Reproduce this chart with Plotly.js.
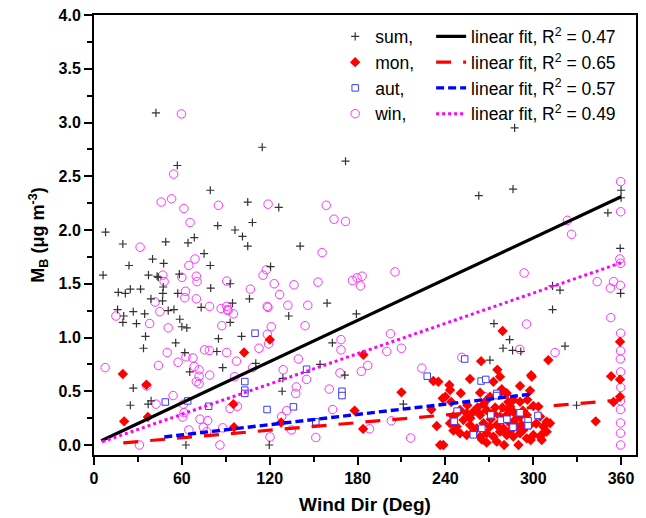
<!DOCTYPE html>
<html>
<head>
<meta charset="utf-8">
<script src="https://cdn.plot.ly/plotly-3.0.1.min.js"></script>
<style>html,body{margin:0;padding:0;background:#fff;}#chart{width:646px;height:518px;}</style>
</head>
<body>
<div id="chart"></div>
<script>
// ---- data (wind direction in degrees, M_B in µg m^-3) ----
var sumX = [6.2,7.9,19.7,16.1,20.3,19.7,21.4,23.9,24.8,31.8,26.8,29,34.6,35.2,33.8,26.8,24.8,37.2,40,38.9,42.3,43.1,47.6,49,47.3,47,46.8,50.7,54.6,55.8,56.9,58.3,57.2,58.6,63.4,64.2,68.5,65.4,62,62.8,75.2,79.4,79.4,79.7,73.2,84.5,85,83.9,87.9,93,94.6,93,96.3,101.4,105,108.2,105,106.2,100.8,114.9,120.6,126.2,119.7,129,128.5,133,140.8,154.4,159.2,162.8,171.8,171.3,179.2,211.3,262.8,270.4,273.2,279.4,283.9,285.9,286.2,287.3,291.5,313.2,313.2,318.3,321.7,329.6,351,360,360,359.4,359.7,37,39,110.5,60,16.6,43.9];
var sumY = [1.58,1.98,1.87,1.26,1.20,1.14,1.41,1.67,1.45,1.45,1.24,1.13,1.22,1.01,0.90,0.53,0.37,1.58,1.73,1.36,3.09,1.57,1.69,1.89,1.47,1.41,1.34,1.25,1.26,0.95,2.60,1.59,1.41,1.17,1.09,1.88,1.93,0.68,0.86,0.0,1.78,2.37,1.67,1.46,1.28,2.04,0.99,0.87,0.72,1.50,1.32,1.14,2.00,1.94,2.26,2.07,1.85,1.36,1.01,2.77,1.66,2.21,0.0,0.62,0.50,1.20,1.85,0.75,1.32,0.95,2.64,0.65,1.22,0.38,2.32,0.79,1.13,0.90,0.98,0.88,2.38,2.95,0.87,1.48,1.26,1.44,0.92,0.37,2.16,2.37,2.30,1.83,1.41,0.38,0.41,0.76,1.10,1.42,1.56];

var monX = [19.7,20.6,35.8,36.8,95.2,95.6,102.5,120.1,127.8,178,184,183.8,210,
  264.4,275.5,299,256.8,277.3,272.8,242.7,235.2,231.8,243.2,291,297.8,263.7,250.5,278.5,281.9,276.2,270.5,238.2,268.2,286.4,291,300.1,303.5,284.2,
  245.5,250,254.6,259.1,263.7,268.2,272.8,277.3,281.9,286.4,291,295.6,304.7,309.2,
  243.2,247.7,252.3,256.8,261.4,266,270.5,275.1,279.6,284.2,288.8,293.3,297.8,306.9,311.5,
  245.5,250,254.6,259.1,263.7,268.2,272.8,277.3,281.9,286.4,291,295.6,300.1,304.7,309.2,
  236.4,238.6,280.1,289.9,298.3,305.8,275.1,268.2,234.1,230.4,240,
  248,257,262,266,271,274,279,283,288,293,296,302,306,265,285,292,255,244,
  310.3,279.1,298.6,342.7,353.2,354.8,359.3,359.3,359.3];
var monY = [0.66,0.22,0.56,0.26,0.38,0.165,0.86,0.98,0.21,0.32,0.84,0.15,0.49,
  0.78,0.70,0.636,0.614,0.636,0.589,0.558,0.589,0.596,0.512,0.549,0.506,0.487,0.481,0.518,0.481,0.466,0.45,0.434,0.419,0.419,0.403,0.363,0.357,0.357,
  0.264,0.326,0.295,0.31,0.279,0.326,0.295,0.264,0.279,0.31,0.264,0.279,0.264,0.217,
  0.202,0.171,0.233,0.186,0.155,0.202,0.171,0.186,0.155,0.202,0.171,0.14,0.186,0.171,0.202,
  0.134,0.109,0.093,0.124,0.078,0.109,0.078,0.124,0.093,0.078,0.109,0.062,0.093,0.078,0.124,
  0.0,0.0,0.0,0.0,0.047,0.047,0.031,0.022,0.177,0.33,0.45,
  0.30,0.25,0.35,0.38,0.24,0.35,0.35,0.40,0.24,0.32,0.42,0.20,0.10,0.05,0.14,0.19,0.37,0.40,
  0.79,1.06,0.65,0.22,0.64,0.40,0.96,0.61,0.45];

var autX = [48.7,64,78.3,103,103,103,110,118.2,136.2,145.2,151.5,169.4,169.4,227.6,246,248,253.2,259.1,264.4,267.6,264.9,271,275,275,278,282,286.2,291,296.5,296.5,303.2];
var autY = [0.40,0.41,0.36,0.59,0.51,0.48,1.04,0.33,0.355,0.705,0.215,0.50,0.46,0.64,0.22,0.315,0.80,0.095,0.595,0.61,0.155,0.28,0.48,0.46,0.23,0.24,0.165,0.30,0.225,0.18,0.275];

var winX = [7.6,15,31.5,31,36,38,41.7,42.4,44,45.9,45,47,47.9,50,50.7,53,54.4,54,57.4,59.7,60,61.4,62,62.5,61,61.5,60.6,62.8,64.8,65.6,64.8,67.6,69,69.9,70.4,69.9,68.5,69.9,71.8,71.8,71.8,72.4,74.7,77,77.7,75.5,78.8,78.9,79,85,86,87.3,86.8,90.7,90.7,90.6,91.5,95.2,92.9,97.3,97.9,96,87.9,106.8,108.4,112.7,115.5,117.7,118.3,118.9,119.2,118.4,120.2,121.1,123.1,126.8,128.2,129.2,132.4,134.8,136.6,139.6,138.2,137.8,131.6,144.2,145.2,146,151.5,153,155.8,158.6,160.7,163,163.9,168.7,168.7,168,171.8,176.6,179.7,183.1,182,182.6,187,188.2,200,202.5,203.1,205.6,210,216.3,223.9,251.2,267,290.8,293.8,295.4,314.9,323.4,326.2,343.7,352.7,353,354.9,359.7,359.7,359.2,359.7,359.5,359.7,359.7,359.5,359.7,359.8,359.6,359.6,359.6,359.6,359.7,91.3,118.8];
var winY = [0.72,1.20,1.84,0.0,0.55,1.13,1.33,0.38,0.74,2.26,1.24,1.58,1.52,0.86,1.09,2.29,2.52,0.46,0.77,3.08,1.56,2.20,1.37,1.43,0.38,0.30,0.26,0.82,1.67,2.07,0.14,0.81,1.73,1.57,1.52,1.36,0.73,0.59,0.70,0.64,0.57,0.24,0.165,0.124,0.227,0.885,0.88,1.29,0.65,2.23,0.0,1.11,1.27,1.29,1.525,0.86,1.25,1.22,0.34,0.78,0.36,0.635,0.16,1.45,0.72,0.90,1.58,1.63,1.29,2.24,0.94,1.03,0.075,1.10,1.50,1.40,0.265,0.70,1.30,0.14,1.49,0.80,0.54,0.48,0.32,1.11,0.61,1.30,0.07,1.515,1.79,2.23,0.52,0.33,2.10,0.98,0.885,0.67,2.08,1.53,1.555,1.57,1.48,0.685,0.74,0.15,0.87,1.035,0.225,1.61,0.90,0.065,0.715,0.815,0.45,0.89,1.60,1.125,0.86,2.09,1.96,1.52,1.46,1.185,1.52,2.45,2.17,1.73,1.69,1.485,1.04,0.875,0.80,0.68,0.535,0.41,0.33,0.205,0.11,0.0,1.26,1.28];

// linear fit end points
var sumFitX = [5, 360], sumFitY = [0.04, 2.31];
var monFitX = [20, 360], monFitY = [0.02, 0.42];
var autFitX = [48, 300], autFitY = [0.075, 0.475];
var winFitX = [5.6, 360], winFitY = [0.03, 1.695];

var seriesNames = ['sum,', 'mon,', 'aut,', 'win,'];
var fitNames = ['linear fit, R<sup>2</sup> = 0.47', 'linear fit, R<sup>2</sup> = 0.65',
                'linear fit, R<sup>2</sup> = 0.57', 'linear fit, R<sup>2</sup> = 0.49'];

var FONT = 'Liberation Sans, Arial, sans-serif';

var traces = [
  {x: winX, y: winY, type: 'scatter', mode: 'markers', name: seriesNames[3], legendrank: 4,
   marker: {symbol: 'circle-open', size: 8.5, color: '#ff33ff', line: {width: 1, color: '#ff33ff'}}},
  {x: sumX, y: sumY, type: 'scatter', mode: 'markers', name: seriesNames[0], legendrank: 1,
   marker: {symbol: 'cross-thin', size: 5.8, color: '#333333', line: {width: 1.2, color: '#333333'}}},
  {x: monX, y: monY, type: 'scatter', mode: 'markers', name: seriesNames[1], legendrank: 2,
   marker: {symbol: 'diamond', size: 8, color: '#ff0000', line: {width: 0}}},
  {x: autX, y: autY, type: 'scatter', mode: 'markers', name: seriesNames[2], legendrank: 3,
   marker: {symbol: 'square', size: 6.5, color: '#ffffff', line: {width: 1, color: '#3b3bff'}}},
  {x: sumFitX, y: sumFitY, type: 'scatter', mode: 'lines', name: fitNames[0], legend: 'legend2', legendrank: 1,
   line: {color: '#000000', width: 3.2}},
  {x: monFitX, y: monFitY, type: 'scatter', mode: 'lines', name: fitNames[1], legend: 'legend2', legendrank: 2,
   line: {color: '#ff0000', width: 3.2, dash: '15px,12px'}},
  {x: autFitX, y: autFitY, type: 'scatter', mode: 'lines', name: fitNames[2], legend: 'legend2', legendrank: 3,
   line: {color: '#0000ff', width: 3.4, dash: '8px,4px'}},
  {x: winFitX, y: winFitY, type: 'scatter', mode: 'lines', name: fitNames[3], legend: 'legend2', legendrank: 4,
   line: {color: '#ff00ff', width: 3, dash: '3px,3px'}}
];

var axisCommon = {
  showline: true, linewidth: 2, linecolor: '#000', mirror: true,
  showgrid: false, zeroline: false,
  ticks: 'outside', ticklen: 8, tickwidth: 2, tickcolor: '#000',
  tickfont: {family: FONT, size: 16, color: '#000', weight: 'bold'}
};

var layout = {
  width: 646, height: 518,
  margin: {l: 94, r: 10, t: 15, b: 63},
  paper_bgcolor: '#fff', plot_bgcolor: '#fff',
  xaxis: Object.assign({}, axisCommon, {
    range: [0, 370.2], tick0: 0, dtick: 60,
    minor: {dtick: 30, ticks: 'outside', ticklen: 5, tickwidth: 2, tickcolor: '#000', showgrid: false},
    title: {text: 'Wind Dir (Deg)', standoff: 11, font: {family: FONT, size: 19, color: '#000', weight: 'bold'}}
  }),
  yaxis: Object.assign({}, axisCommon, {
    range: [-0.093, 4.0], tick0: 0, dtick: 0.5, tickformat: '.1f',
    minor: {dtick: 0.25, ticks: 'outside', ticklen: 5, tickwidth: 2, tickcolor: '#000', showgrid: false},
    title: {text: 'M<sub>B</sub> (\u03bcg m<sup>-3</sup>)', standoff: 9, font: {family: FONT, size: 18, color: '#000', weight: 'bold'}}
  }),
  showlegend: true,
  legend: {x: 0.445, y: 0.992, xanchor: 'left', yanchor: 'top', bgcolor: 'rgba(0,0,0,0)', borderwidth: 0,
           font: {family: FONT, size: 17.5, color: '#000'}, traceorder: 'normal'},
  legend2: {x: 0.622, y: 0.992, xanchor: 'left', yanchor: 'top', bgcolor: 'rgba(0,0,0,0)', borderwidth: 0,
           font: {family: FONT, size: 17.5, color: '#000'}, traceorder: 'normal'}
};

Plotly.newPlot('chart', traces, layout, {displayModeBar: false, staticPlot: true});
</script>
</body>
</html>
